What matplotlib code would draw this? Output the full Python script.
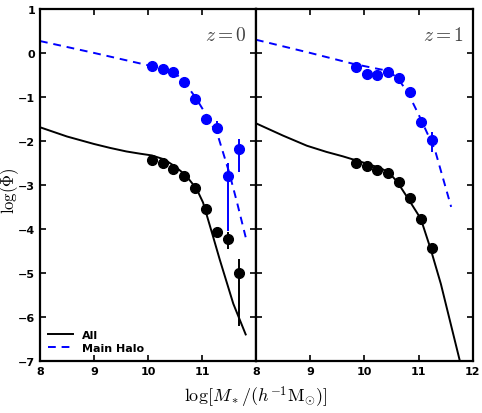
import numpy as np
import matplotlib
matplotlib.use('Agg')
import matplotlib.pyplot as plt

plt.rcParams['mathtext.fontset'] = 'cm'

# ---- z = 0 ----
x0_pts = [10.07, 10.27, 10.47, 10.67, 10.88, 11.08, 11.28, 11.48, 11.68]
all0_pts = [-2.43, -2.51, -2.64, -2.79, -3.07, -3.55, -4.08, -4.23, -5.01]
all0_lo = [0.0, 0.0, 0.0, 0.0, 0.0, 0.0, 0.10, 0.22, 1.20]
all0_hi = [0.0, 0.0, 0.0, 0.0, 0.0, 0.0, 0.08, 0.15, 0.33]
main0_pts = [-0.30, -0.36, -0.43, -0.65, -1.05, -1.50, -1.70, -2.80, -2.19]
main0_lo = [0.0, 0.0, 0.0, 0.0, 0.0, 0.0, 0.15, 1.24, 0.52]
main0_hi = [0.0, 0.0, 0.0, 0.0, 0.0, 0.0, 0.15, 0.30, 0.24]

all0_cx = [8.0, 8.5, 9.0, 9.3, 9.6, 9.85, 10.07, 10.3, 10.5, 10.7, 10.9, 11.02, 11.2, 11.33, 11.58, 11.81]
all0_cy = [-1.69, -1.90, -2.07, -2.16, -2.24, -2.29, -2.33, -2.42, -2.58, -2.78, -3.09, -3.40, -4.15, -4.70, -5.70, -6.40]
main0_cx = [8.0, 9.0, 10.0, 10.5, 10.7, 10.9, 11.1, 11.3, 11.5, 11.65, 11.81]
main0_cy = [0.27, 0.0, -0.28, -0.45, -0.70, -1.05, -1.45, -1.90, -2.70, -3.40, -4.19]

# ---- z = 1 ----
x1_pts = [9.84, 10.04, 10.24, 10.44, 10.64, 10.85, 11.04, 11.24]
all1_pts = [-2.51, -2.58, -2.66, -2.73, -2.94, -3.30, -3.77, -4.43]
main1_pts = [-0.31, -0.48, -0.51, -0.43, -0.58, -0.89, -1.58, -1.97]
main1_lo = [0.0, 0.0, 0.0, 0.0, 0.0, 0.0, 0.08, 0.28]
main1_hi = [0.0, 0.0, 0.0, 0.0, 0.0, 0.0, 0.08, 0.17]

all1_cx = [8.0, 8.5, 8.94, 9.3, 9.6, 10.0, 10.3, 10.45, 10.6, 10.8, 11.04, 11.22, 11.41, 11.76]
all1_cy = [-1.60, -1.88, -2.11, -2.25, -2.35, -2.50, -2.62, -2.72, -2.92, -3.30, -3.77, -4.45, -5.25, -7.0]
main1_cx = [8.0, 9.0, 9.8, 10.4, 10.6, 10.8, 11.0, 11.3, 11.6]
main1_cy = [0.30, 0.0, -0.25, -0.40, -0.55, -0.90, -1.40, -2.20, -3.50]

blue = '#0000ff'

fig = plt.figure(figsize=(4.82, 4.14), dpi=100)
ax0 = fig.add_axes([0.083, 0.126, 0.448, 0.850])
ax1 = fig.add_axes([0.531, 0.126, 0.450, 0.850])

panels = [
    (ax0, x0_pts, all0_pts, (all0_lo, all0_hi), main0_pts, (main0_lo, main0_hi),
     all0_cx, all0_cy, main0_cx, main0_cy, '$z=0$'),
    (ax1, x1_pts, all1_pts, None, main1_pts, (main1_lo, main1_hi),
     all1_cx, all1_cy, main1_cx, main1_cy, '$z=1$'),
]

for ax, xp, ap, aerr, mp, merr, acx, acy, mcx, mcy, lab in panels:
    ax.plot(acx, acy, 'k-', lw=1.4, label='All')
    ax.plot(mcx, mcy, '--', color=blue, lw=1.4, dashes=(4, 3), label='Main Halo')
    ax.errorbar(xp, ap, yerr=aerr, fmt='o', color='k', ms=7, lw=1.4, capsize=0)
    ax.errorbar(xp, mp, yerr=merr, fmt='o', color=blue, ms=7, lw=1.4, capsize=0)
    ax.set_xlim(8, 12)
    ax.set_ylim(-7, 1)
    ax.set_xticks([8, 9, 10, 11, 12])
    ax.set_yticks(range(-7, 2))
    ax.tick_params(direction='in', top=True, right=True, length=4, width=1.2,
                   labelsize=8)
    for s in ax.spines.values():
        s.set_linewidth(1.6)
    ax.text(0.96, 0.955, lab, transform=ax.transAxes, ha='right', va='top',
            fontsize=14, color='#444444')

ax0.set_xticklabels(['8', '9', '10', '11', ''])
ax1.set_yticklabels([])
ax0.set_yticklabels(['\u22127', '\u22126', '\u22125', '\u22124', '\u22123',
                     '\u22122', '\u22121', '0', '1'])
for ax in (ax0, ax1):
    for t in ax.get_xticklabels() + ax.get_yticklabels():
        t.set_fontweight('bold')

ax0.legend(loc='lower left', frameon=False, prop={'weight': 'bold', 'size': 8},
           handlelength=2.3, borderaxespad=0.3, labelspacing=0.3)

fig.text(0.021, 0.54, r'$\log(\Phi)$', rotation=90, ha='center', va='center',
         fontsize=12)
fig.text(0.531, 0.04, r'$\log[M_*/(h^{-1}{\rm M}_{\odot})]$', ha='center',
         va='center', fontsize=13)

fig.savefig('out.png', dpi=100)
